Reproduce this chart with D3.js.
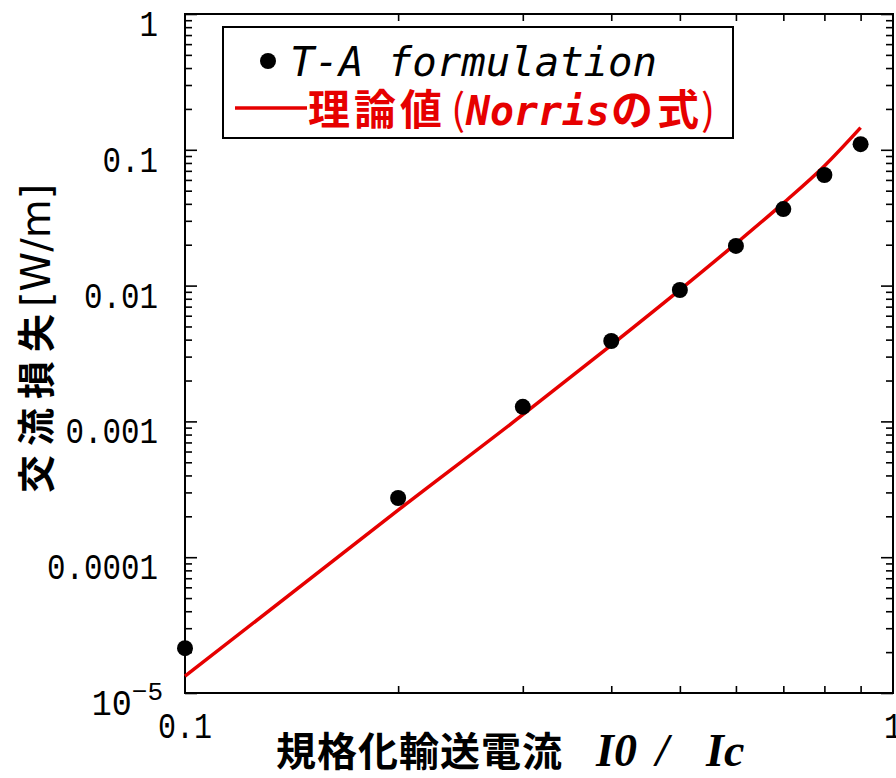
<!DOCTYPE html>
<html><head><meta charset="utf-8">
<script src="https://cdn.jsdelivr.net/npm/d3@7"></script>
<style>body{margin:0;background:#fff}</style>
</head><body>
<script>
// ---- data ----
const currentRatio = [0.1,0.2,0.3,0.4,0.5,0.6,0.7,0.8,0.9];
const taLoss = [2.14e-5,2.73e-4,1.28e-3,3.91e-3,9.28e-3,1.96e-2,3.66e-2,6.52e-2,0.110];
const norrisLoss = [1.33e-5,2.22e-4,1.12e-3,3.65e-3,9.3e-3,2.04e-2,4.05e-2,7.6e-2,0.1455];
const yMajorTicks = [1e-5,1e-4,1e-3,1e-2,1e-1,1];
const yTickLabels = ["10^-5","0.0001","0.001","0.01","0.1","1"];
const xMajorTicks = [0.1,1];
const xTickLabels = ["0.1","1"];
const legendLabels = ["T-A formulation","理論値(Norrisの式)"];

const W=896,H=778;
const L=185,R=893,T=14,B=693;
const svg=d3.select("body").append("svg").attr("width",W).attr("height",H);
const x=d3.scaleLog().domain([0.1,1]).range([L,R]);
const y=d3.scaleLog().domain([1e-5,1]).range([B,T]);

const yMinor=[];
for(let e=-5;e<0;e++) for(let k=2;k<=9;k++) yMinor.push(k*Math.pow(10,e));
const xMinor=[0.2,0.3,0.4,0.5,0.6,0.7,0.8,0.9];

function styleAxis(g){g.select(".domain").remove();g.selectAll("text").remove();g.selectAll("line").attr("stroke","#000").attr("stroke-width",1.6);}
svg.append("g").attr("transform",`translate(${L},0)`).call(d3.axisLeft(y).tickValues(yMajorTicks).tickSize(-12)).call(styleAxis);
svg.append("g").attr("transform",`translate(${L},0)`).call(d3.axisLeft(y).tickValues(yMinor).tickSize(-7)).call(styleAxis);
svg.append("g").attr("transform",`translate(${R},0)`).call(d3.axisRight(y).tickValues(yMajorTicks).tickSize(-12)).call(styleAxis);
svg.append("g").attr("transform",`translate(${R},0)`).call(d3.axisRight(y).tickValues(yMinor).tickSize(-7)).call(styleAxis);
svg.append("g").attr("transform",`translate(0,${B})`).call(d3.axisBottom(x).tickValues(xMinor).tickSize(-7)).call(styleAxis);
svg.append("g").attr("transform",`translate(0,${T})`).call(d3.axisTop(x).tickValues(xMinor).tickSize(-7)).call(styleAxis);

svg.append("rect").attr("x",L).attr("y",T).attr("width",R-L).attr("height",B-T)
  .attr("fill","none").attr("stroke","#000").attr("stroke-width",2);

// y tick labels
const tickFont="'Liberation Mono', monospace";
const monoFont="'DejaVu Sans Mono', monospace";
yMajorTicks.forEach((v,i)=>{
  const lab=yTickLabels[i];
  if(lab.startsWith("10^")){
    const t=svg.append("text").attr("x",163).attr("y",y(v)+22).attr("text-anchor","end")
      .attr("font-family",tickFont).attr("font-size",36).attr("fill","#000");
    t.append("tspan").text("10").attr("textLength",40).attr("lengthAdjust","spacingAndGlyphs");
    t.append("tspan").text("−5").attr("font-size",26).attr("dy",-15);
  } else {
    svg.append("text").attr("x",158).attr("y",y(v)+22).attr("text-anchor","end")
      .attr("font-family",tickFont).attr("font-size",36).attr("fill","#000")
      .attr("textLength",lab.length*18.5).attr("lengthAdjust","spacingAndGlyphs").text(lab);
  }
});
xMajorTicks.forEach((v,i)=>{
  const lab=xTickLabels[i];
  svg.append("text").attr("x",x(v)).attr("y",B+45).attr("text-anchor","middle")
    .attr("font-family",tickFont).attr("font-size",36).attr("fill","#000")
    .attr("textLength",lab.length*18).attr("lengthAdjust","spacingAndGlyphs").text(lab);
});

// Norris line
const line=d3.line().x((d,i)=>x(currentRatio[i])).y(d=>y(d)).curve(d3.curveMonotoneX);
svg.append("path").datum(norrisLoss).attr("d",line).attr("fill","none")
  .attr("stroke","#e60000").attr("stroke-width",3.5);
// dots
svg.selectAll("circle.ta").data(taLoss).join("circle").attr("class","ta")
  .attr("cx",(d,i)=>x(currentRatio[i])).attr("cy",d=>y(d)).attr("r",8).attr("fill","#000");

// legend
const lg=svg.append("g");
lg.append("rect").attr("x",223).attr("y",27).attr("width",510).attr("height",111)
  .attr("fill","#fff").attr("stroke","#000").attr("stroke-width",2);
lg.append("circle").attr("cx",268).attr("cy",61).attr("r",8).attr("fill","#000");
lg.append("text").attr("x",290).attr("y",76).attr("font-family",monoFont).attr("font-style","italic")
  .attr("font-size",40).attr("fill","#000").attr("textLength",367).attr("lengthAdjust","spacingAndGlyphs").text(legendLabels[0]);
lg.append("line").attr("x1",235).attr("x2",307).attr("y1",108).attr("y2",108).attr("stroke","#e60000").attr("stroke-width",3.5);
const rt=lg.append("text").attr("y",125).attr("fill","#e60000").attr("font-size",42).attr("font-weight","bold");
rt.append("tspan").attr("x",308).attr("font-family","'Noto Sans CJK JP'").attr("letter-spacing",4).text("理論値");
rt.append("tspan").attr("x",451).attr("font-family","'Noto Sans CJK JP'").attr("font-weight","normal").text("(");
rt.append("tspan").attr("x",466).attr("font-family",monoFont).attr("font-style","italic").attr("font-size",40)
  .attr("textLength",144).attr("lengthAdjust","spacingAndGlyphs").text("Norris");
rt.append("tspan").attr("x",611).attr("font-family","'Noto Sans CJK JP'").attr("letter-spacing",4).text("の式");
rt.append("tspan").attr("x",701).attr("font-family","'Noto Sans CJK JP'").attr("font-weight","normal").text(")");

// x title
const xt=svg.append("text").attr("y",766).attr("fill","#000").attr("font-weight","bold");
xt.append("tspan").attr("x",276).attr("font-family","'Noto Sans CJK JP'").attr("font-size",40).attr("letter-spacing",1).text("規格化輸送電流");
xt.append("tspan").attr("x",596).attr("font-family","'Liberation Serif'").attr("font-style","italic").attr("font-size",46).text("I0");
xt.append("tspan").attr("x",656).attr("font-family","'Liberation Serif'").attr("font-style","italic").attr("font-size",46).text("/");
xt.append("tspan").attr("x",706).attr("font-family","'Liberation Serif'").attr("font-style","italic").attr("font-size",46).text("Ic");

// y title
const yt=svg.append("text").attr("transform","translate(50,493) rotate(-90)").attr("fill","#000");
yt.append("tspan").attr("font-family","'Noto Sans CJK JP'").attr("font-size",38).attr("font-weight","bold").attr("letter-spacing",9).text("交流損失");
yt.append("tspan").attr("font-family","'DejaVu Sans'").attr("font-size",40).attr("dx",-2).text("[W/m]");
</script>
</body></html>
